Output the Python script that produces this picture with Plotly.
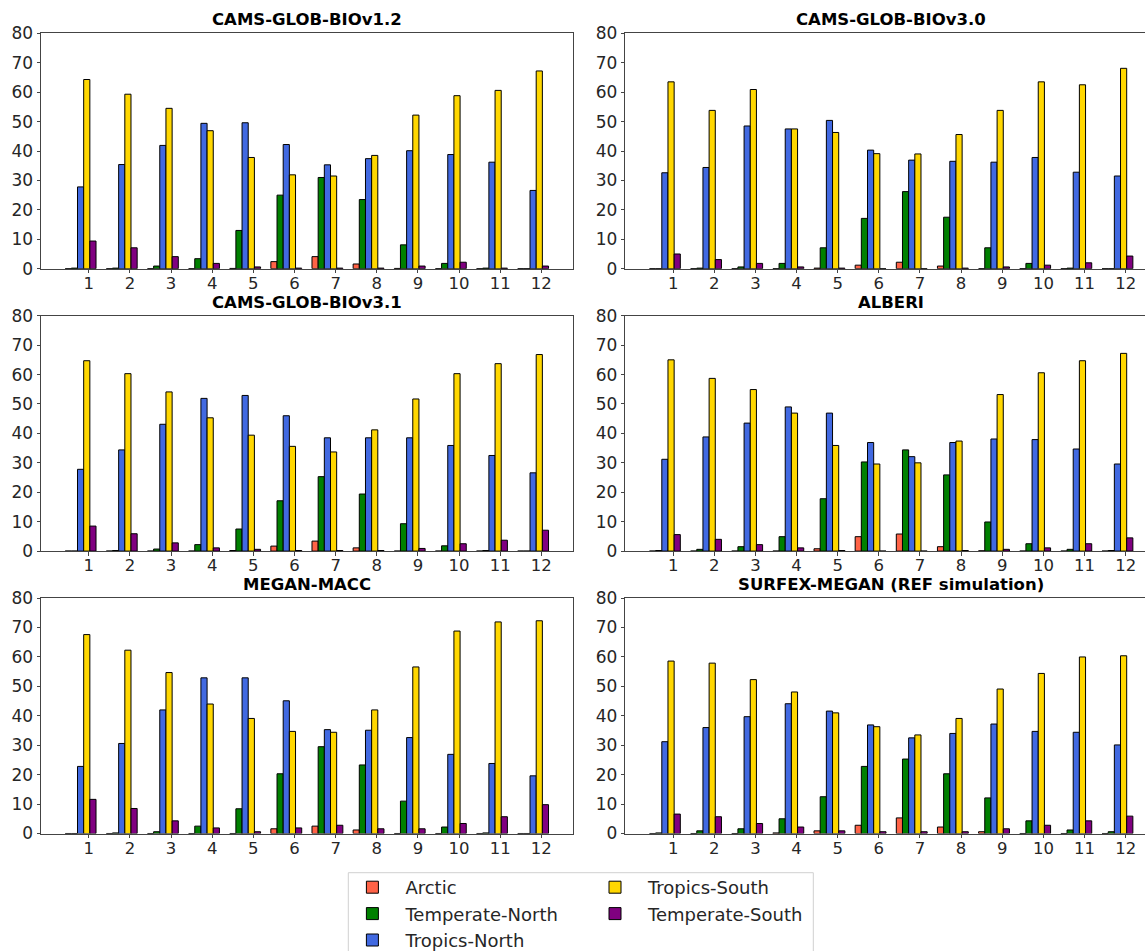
import plotly.graph_objects as go

# ---------------- data ----------------
MONTHS = list(range(1, 13))
SERIES = ["Arctic", "Temperate-North", "Tropics-North", "Tropics-South", "Temperate-South"]
TITLES = ["CAMS-GLOB-BIOv1.2", "CAMS-GLOB-BIOv3.0", "CAMS-GLOB-BIOv3.1",
          "ALBERI", "MEGAN-MACC", "SURFEX-MEGAN (REF simulation)"]
Y_TICKS = [0, 10, 20, 30, 40, 50, 60, 70, 80]

# CAMS-GLOB-BIOv1.2
V12_ARCTIC = [0, 0, 0, 0, 0.1, 2.4, 4.1, 1.6, 0.1, 0, 0, 0]
V12_TEMP_N = [0.2, 0.2, 0.9, 3.4, 13.0, 25.0, 31.0, 23.5, 8.1, 1.8, 0.2, 0]
V12_TROP_N = [27.8, 35.4, 41.9, 49.4, 49.6, 42.2, 35.3, 37.4, 40.1, 38.8, 36.2, 26.6]
V12_TROP_S = [64.3, 59.3, 54.5, 46.9, 37.8, 31.9, 31.5, 38.5, 52.2, 58.8, 60.6, 67.2]
V12_TEMP_S = [9.4, 7.1, 4.1, 1.8, 0.6, 0.2, 0.2, 0.2, 0.9, 2.2, 0.2, 0.9]

# CAMS-GLOB-BIOv3.0
V30_ARCTIC = [0, 0, 0, 0, 0.2, 1.2, 2.2, 0.9, 0, 0, 0, 0]
V30_TEMP_N = [0, 0.2, 0.6, 1.8, 7.1, 17.1, 26.2, 17.5, 7.1, 1.8, 0.2, 0]
V30_TROP_N = [32.6, 34.4, 48.5, 47.5, 50.4, 40.3, 36.9, 36.5, 36.2, 37.8, 32.8, 31.5]
V30_TROP_S = [63.5, 53.8, 60.9, 47.5, 46.3, 39.1, 39.0, 45.6, 53.8, 63.5, 62.5, 68.1]
V30_TEMP_S = [5.0, 3.1, 1.8, 0.6, 0.2, 0, 0, 0.2, 0.6, 1.2, 2.0, 4.3]

# CAMS-GLOB-BIOv3.1
V31_ARCTIC = [0, 0, 0, 0, 0.2, 1.7, 3.4, 1.1, 0, 0, 0, 0]
V31_TEMP_N = [0, 0.2, 0.7, 2.2, 7.5, 17.1, 25.3, 19.4, 9.3, 1.8, 0.2, 0]
V31_TROP_N = [27.8, 34.4, 43.1, 51.9, 52.9, 46.0, 38.5, 38.5, 38.5, 35.9, 32.5, 26.6]
V31_TROP_S = [64.7, 60.3, 54.1, 45.3, 39.4, 35.6, 33.7, 41.2, 51.7, 60.3, 63.7, 66.8]
V31_TEMP_S = [8.5, 5.9, 2.8, 1.1, 0.6, 0.2, 0.2, 0.2, 0.9, 2.5, 3.7, 7.1]

# ALBERI
ALB_ARCTIC = [0, 0, 0, 0, 0.8, 4.9, 5.8, 1.5, 0.1, 0, 0, 0]
ALB_TEMP_N = [0.2, 0.6, 1.5, 4.9, 17.8, 30.3, 34.4, 25.9, 9.9, 2.5, 0.6, 0.2]
ALB_TROP_N = [31.2, 38.8, 43.5, 49.0, 46.9, 36.9, 32.1, 36.9, 38.1, 37.9, 34.7, 29.6]
ALB_TROP_S = [65.0, 58.7, 54.9, 46.9, 35.9, 29.6, 30.0, 37.4, 53.2, 60.6, 64.7, 67.2]
ALB_TEMP_S = [5.6, 4.0, 2.2, 1.1, 0.2, 0, 0, 0.2, 0.6, 1.1, 2.5, 4.5]

# MEGAN-MACC
MAC_ARCTIC = [0, 0, 0, 0, 0, 1.6, 2.5, 1.2, 0, 0, 0, 0]
MAC_TEMP_N = [0, 0.2, 0.6, 2.5, 8.4, 20.3, 29.5, 23.3, 11.0, 2.2, 0.2, 0]
MAC_TROP_N = [22.8, 30.6, 42.0, 52.9, 52.9, 45.1, 35.3, 35.1, 32.6, 26.9, 23.8, 19.6]
MAC_TROP_S = [67.6, 62.3, 54.7, 44.0, 39.1, 34.7, 34.4, 42.0, 56.6, 68.8, 71.9, 72.3]
MAC_TEMP_S = [11.6, 8.5, 4.3, 1.9, 0.6, 1.9, 2.8, 1.6, 1.6, 3.4, 5.7, 9.8]

# SURFEX-MEGAN (REF simulation)
SFX_ARCTIC = [0, 0, 0, 0.2, 0.9, 2.8, 5.3, 2.2, 0.6, 0, 0, 0]
SFX_TEMP_N = [0.2, 0.9, 1.6, 5.0, 12.5, 22.8, 25.3, 20.3, 12.1, 4.3, 1.2, 0.6]
SFX_TROP_N = [31.2, 36.0, 39.7, 44.1, 41.6, 36.9, 32.5, 34.0, 37.2, 34.7, 34.4, 30.1]
SFX_TROP_S = [58.6, 57.9, 52.3, 48.1, 41.0, 36.3, 33.5, 39.1, 49.1, 54.4, 60.0, 60.4]
SFX_TEMP_S = [6.6, 5.7, 3.4, 2.2, 0.9, 0.6, 0.6, 0.6, 1.6, 2.8, 4.3, 5.9]

PANELS = [
    [V12_ARCTIC, V12_TEMP_N, V12_TROP_N, V12_TROP_S, V12_TEMP_S],
    [V30_ARCTIC, V30_TEMP_N, V30_TROP_N, V30_TROP_S, V30_TEMP_S],
    [V31_ARCTIC, V31_TEMP_N, V31_TROP_N, V31_TROP_S, V31_TEMP_S],
    [ALB_ARCTIC, ALB_TEMP_N, ALB_TROP_N, ALB_TROP_S, ALB_TEMP_S],
    [MAC_ARCTIC, MAC_TEMP_N, MAC_TROP_N, MAC_TROP_S, MAC_TEMP_S],
    [SFX_ARCTIC, SFX_TEMP_N, SFX_TROP_N, SFX_TROP_S, SFX_TEMP_S],
]

# ---------------- style ----------------
W, H = 1145, 951
COLORS = ["#FF6347", "#008000", "#4169E1", "#FFD700", "#800080"]
BAR_W = 0.15
OFFSETS = [-0.575, -0.425, -0.275, -0.125, 0.025]
FONT = "DejaVu Sans"
AX_COLOR = "#444444"
TXT_COLOR = "#262626"

# pixel geometry of the panels
COL_X = [(41.0, 572.7), (625.3, 1145.0)]
ROW_Y = [(33.3, 268.7), (315.7, 551.1), (598.1, 833.5)]
X_RANGES = [[-0.1625, 12.7625], [-0.1625, 12.47]]
TITLE_CX = [(41.0 + 572.7) / 2, (625.3 + 625.3 + 531.7) / 2]

fig = go.Figure()
layout = dict(
    width=W, height=H, autosize=False,
    margin=dict(l=0, r=0, t=0, b=0, autoexpand=False),
    paper_bgcolor="white", plot_bgcolor="white",
    barmode="overlay",
    font=dict(family=FONT, color=TXT_COLOR, size=16),
    annotations=[], shapes=[],
)

for p, series_vals in enumerate(PANELS):
    r, c = divmod(p, 2)
    idx = "" if p == 0 else str(p + 1)
    xa, ya = "x" + idx, "y" + idx
    for s, vals in enumerate(series_vals):
        fig.add_trace(go.Bar(
            x=MONTHS, y=vals, name=SERIES[s],
            width=BAR_W, offset=OFFSETS[s],
            marker=dict(color=COLORS[s], line=dict(color="black", width=1)),
            xaxis=xa, yaxis=ya,
            showlegend=(p == 0),
            legend="legend" if s < 3 else "legend2",
            hoverinfo="x+y+name",
        ))
    x0, x1 = COL_X[c]
    y0, y1 = ROW_Y[r]
    layout["xaxis" + idx] = dict(
        domain=[x0 / W, x1 / W], anchor=ya, range=X_RANGES[c],
        tickmode="array", tickvals=MONTHS, ticktext=[str(m) for m in MONTHS],
        ticks="outside", ticklen=3.5, tickcolor=AX_COLOR, tickwidth=1,
        ticklabelstandoff=-4,
        showline=True, linecolor=AX_COLOR, linewidth=1, mirror=True,
        showgrid=False, zeroline=False,
        tickfont=dict(size=16.5, color=TXT_COLOR, family=FONT),
    )
    layout["yaxis" + idx] = dict(
        domain=[1 - y1 / H, 1 - y0 / H], anchor=xa, range=[0, 80],
        tickmode="array", tickvals=Y_TICKS,
        ticks="outside", ticklen=3.5, tickcolor=AX_COLOR, tickwidth=1,
        showline=True, linecolor=AX_COLOR, linewidth=1, mirror=(c == 0),
        showgrid=False, zeroline=False,
        tickfont=dict(size=17, color=TXT_COLOR, family=FONT),
    )
    layout["annotations"].append(dict(
        text=TITLES[p], xref="paper", yref="paper",
        x=TITLE_CX[c] / W, y=1 - y0 / H, xanchor="center", yanchor="middle",
        yshift=13.5, showarrow=False,
        font=dict(family=FONT, size=16.5, color="black", weight="bold"),
    ))

# legend frame
layout["shapes"].append(dict(
    type="rect", xref="paper", yref="paper",
    x0=348.3 / W, x1=813.3 / W, y0=1 - 965 / H, y1=1 - 872.7 / H,
    line=dict(color="#d0d0d0", width=1), fillcolor="rgba(255,255,255,0.8)",
    layer="below",
))

LEG_COMMON = dict(
    orientation="v", xanchor="left", yanchor="top",
    bgcolor="rgba(0,0,0,0)", borderwidth=0,
    font=dict(family=FONT, size=18, color=TXT_COLOR),
    itemwidth=56, tracegroupgap=0,
)
layout["legend"] = dict(LEG_COMMON, x=339.4 / W, y=1 - 869.0 / H)
layout["legend2"] = dict(LEG_COMMON, x=582.0 / W, y=1 - 869.0 / H)

fig.update_layout(**layout)
fig.write_html("out.html", config={"displayModeBar": False},
               post_script="document.body.style.margin='0';")
